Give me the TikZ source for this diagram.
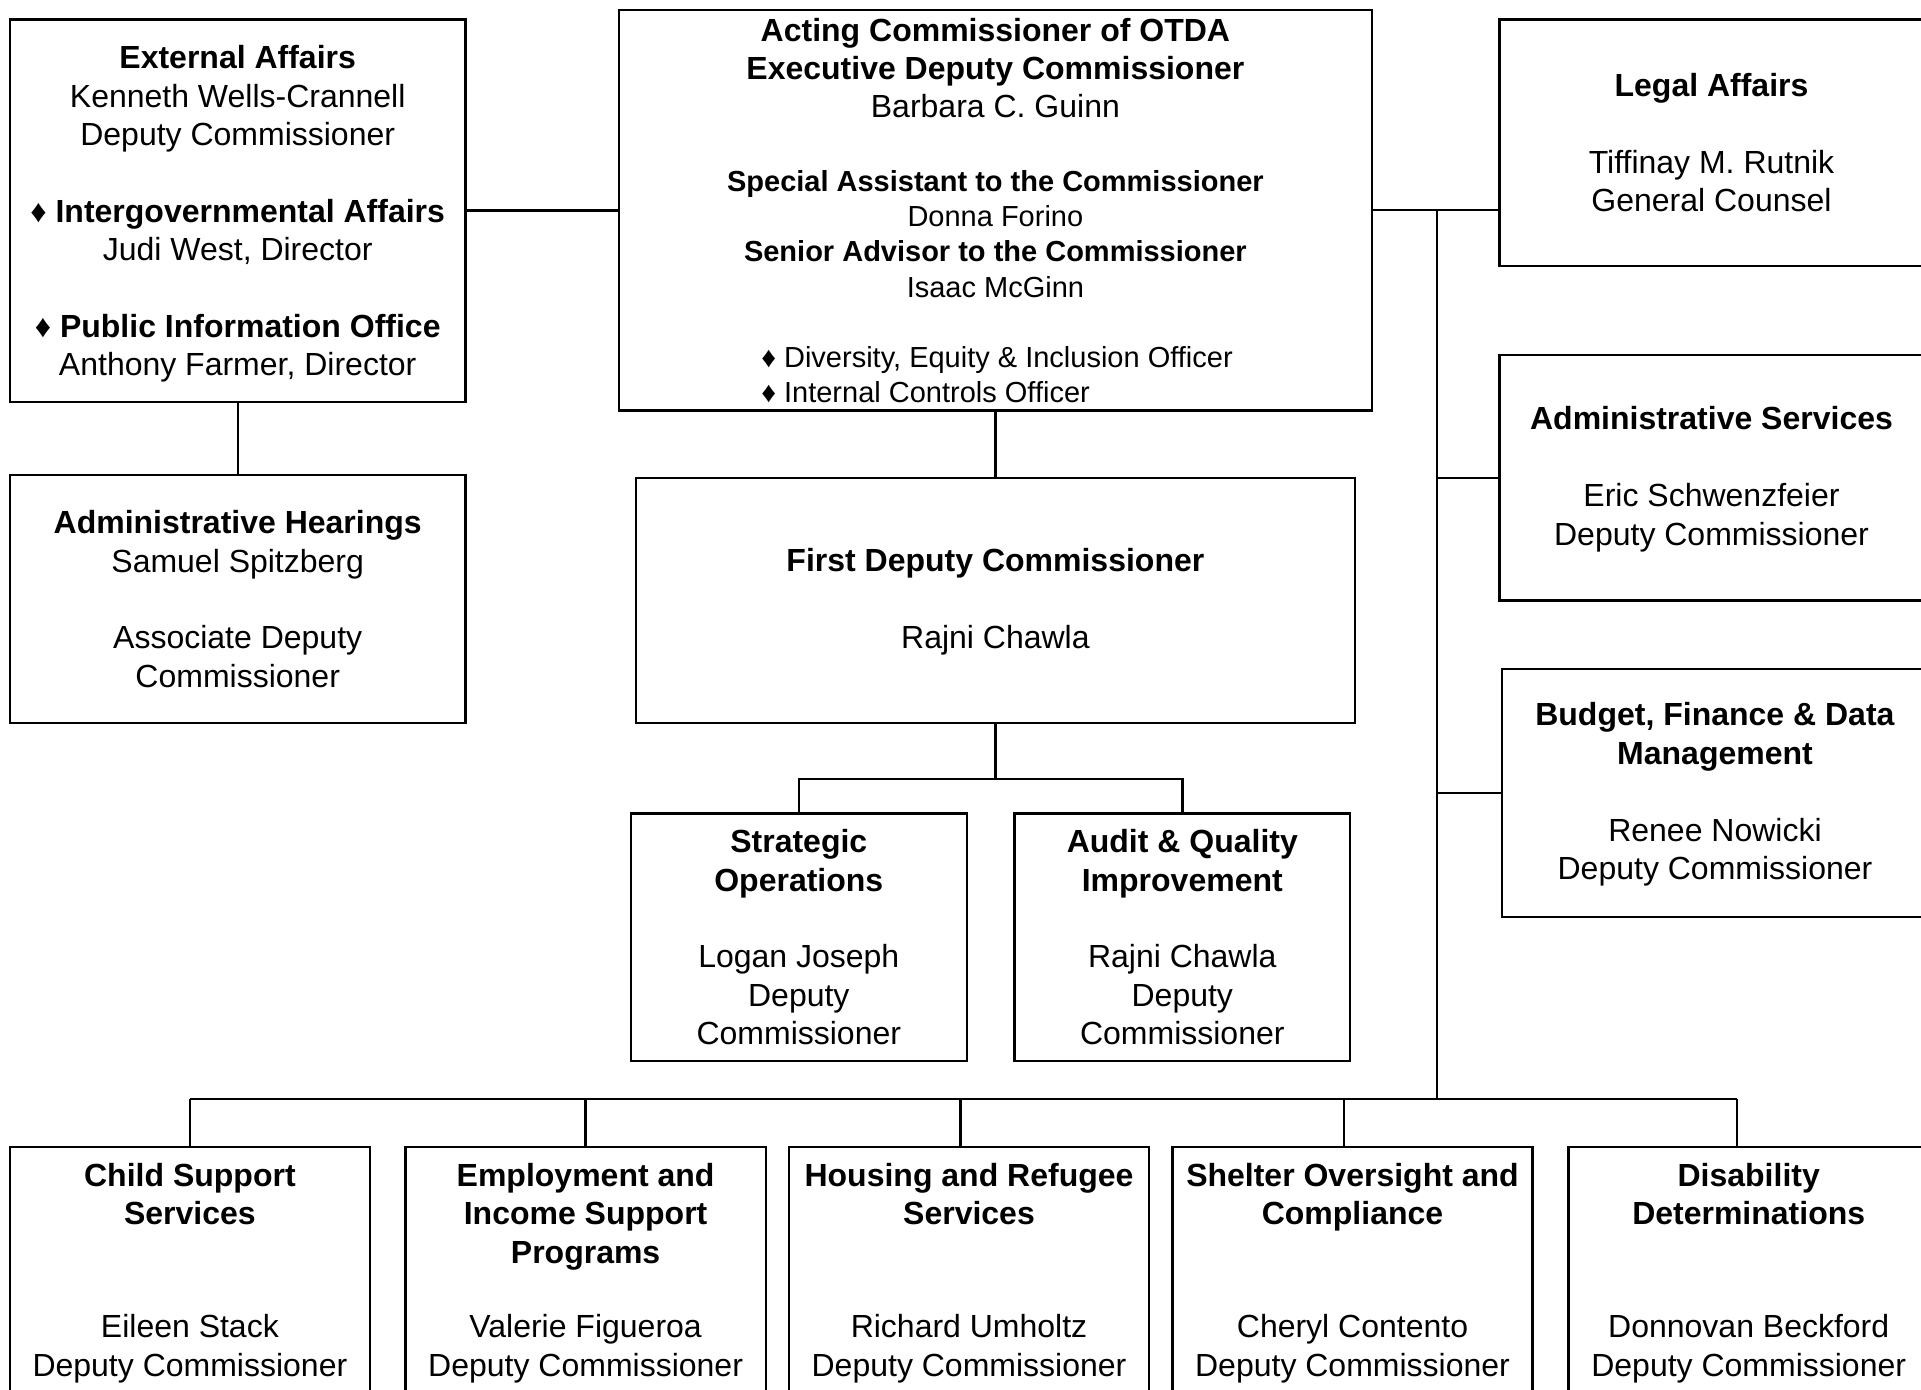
\documentclass[tikz,border=0pt]{standalone}
\usepackage{fontspec}
\setmainfont{Liberation Sans}
\newcommand{\mainfs}{\fontsize{16}{19.2}\selectfont}
\newcommand{\smallfs}{\fontsize{14.5}{17.6}\selectfont}
\newcommand{\dm}{♦}
\newcommand{\tl}[1]{\rule{0pt}{#1}}
\begin{document}
\begin{tikzpicture}[x=0.5pt,y=-0.5pt,
  box/.style={draw, line width=1.2pt, align=center, inner sep=0pt, font=\mainfs},
  conn/.style={line width=1.2pt}]
\useasboundingbox (0,0) rectangle (1921,1390);
\clip (0,0) rectangle (1921,1390);

% top row
\node[box, minimum width=227.9pt, minimum height=191.1pt] (ext) at (237.7,210.7)
 {\tl{15pt}\textbf{External Affairs}\\Kenneth Wells-Crannell\\Deputy Commissioner\\[19.2pt]
  \textbf{\dm\ Intergovernmental Affairs}\\Judi West, Director\\[19.2pt]
  \textbf{\dm\ Public Information Office}\\Anthony Farmer, Director};

\node[box, minimum width=376.7pt, minimum height=200.3pt] (ctr) at (995.4,210.1) {};
\node[font=\mainfs, align=center, inner sep=0pt] (ctrA) at (995.4,68)
 {\textbf{Acting Commissioner of OTDA}\\\textbf{Executive Deputy Commissioner}\\Barbara C. Guinn};
\node[font=\smallfs, align=center, inner sep=0pt] (ctrB) at (995.4,234)
 {\textbf{Special Assistant to the Commissioner}\\Donna Forino\\\textbf{Senior Advisor to the Commissioner}\\Isaac McGinn};
\node[font=\smallfs, align=left, inner sep=0pt] (ctrC) at (997,374.9)
 {\dm\ Diversity, Equity \& Inclusion Officer\\\dm\ Internal Controls Officer};

\node[box, minimum width=212pt, minimum height=123.2pt] (legal) at (1711.5,142.8)
 {\textbf{Legal Affairs}\\[19.2pt]Tiffinay M. Rutnik\\General Counsel};

% second row
\node[box, minimum width=227.9pt, minimum height=123.8pt] (admh) at (237.7,599)
 {\textbf{Administrative Hearings}\\Samuel Spitzberg\\[19.2pt]Associate Deputy\\Commissioner};
\node[box, minimum width=359.6pt, minimum height=122.5pt] (first) at (995.4,600.3)
 {\tl{13pt}\textbf{First Deputy Commissioner}\\[19.2pt]Rajni Chawla};
\node[box, minimum width=212pt, minimum height=122.5pt] (adms) at (1711.5,477.8)
 {\tl{13pt}\textbf{Administrative Services}\\[19.2pt]Eric Schwenzfeier\\Deputy Commissioner};
\node[box, minimum width=213pt, minimum height=124pt] (budget) at (1715,793)
 {\tl{13pt}\textbf{Budget, Finance \& Data}\\\textbf{Management}\\[19.2pt]Renee Nowicki\\Deputy Commissioner};

% third row
\node[box, minimum width=167.9pt, minimum height=123.8pt] (strat) at (798.8,937.3)
 {\textbf{Strategic}\\\textbf{Operations}\\[19.2pt]Logan Joseph\\Deputy\\Commissioner};
\node[box, minimum width=167.9pt, minimum height=123.8pt] (audit) at (1182.3,937.3)
 {\textbf{Audit \& Quality}\\\textbf{Improvement}\\[19.2pt]Rajni Chawla\\Deputy\\Commissioner};

% bottom row
\node[box, minimum width=180.1pt, minimum height=123.4pt] (child) at (189.9,1270.1)
 {\tl{14.5pt}\textbf{Child Support}\\\textbf{Services}\\[37.4pt]Eileen Stack\\Deputy Commissioner};
\node[box, minimum width=180.1pt, minimum height=123.4pt] (empl) at (585.6,1270.1)
 {\tl{14.5pt}\textbf{Employment and}\\\textbf{Income Support}\\\textbf{Programs}\\[18.2pt]Valerie Figueroa\\Deputy Commissioner};
\node[box, minimum width=180.1pt, minimum height=123.4pt] (hous) at (969,1270.1)
 {\tl{14.5pt}\textbf{Housing and Refugee}\\\textbf{Services}\\[37.4pt]Richard Umholtz\\Deputy Commissioner};
\node[box, minimum width=180.1pt, minimum height=123.4pt] (shelt) at (1352.5,1270.1)
 {\tl{14.5pt}\textbf{Shelter Oversight and}\\\textbf{Compliance}\\[37.4pt]Cheryl Contento\\Deputy Commissioner};
\node[box, minimum width=180.1pt, minimum height=123.4pt] (disab) at (1748.7,1270.1)
 {\tl{14.5pt}\textbf{Disability}\\\textbf{Determinations}\\[37.4pt]Donnovan Beckford\\Deputy Commissioner};

% connectors
\draw[conn] (ext.east) -- (ext.east -| ctr.west);
\draw[conn] (ext.south) -- (admh.north);
\draw[conn] (ctr.south) -- (first.north);
\coordinate (fj) at (995.4,779.2);
\draw[conn] (first.south) -- (fj);
\draw[conn] (strat.north) |- (fj) -| (audit.north);

\coordinate (tt) at (1437,210.7);
\coordinate (tb) at (1437,1099);
\draw[conn] (ctr.east) -- (ctr.east -| legal.west);
\draw[conn] (tt) -- (tb);
\draw[conn] (tt |- adms.west) -- (adms.west);
\draw[conn] (tt |- budget.west) -- (budget.west);

\coordinate (b1) at (190,1099);
\coordinate (b2) at (585.6,1099);
\coordinate (b3) at (960.5,1099);
\coordinate (b4) at (1344,1099);
\coordinate (b5) at (1737,1099);
\draw[conn] (b1) -- (b5);
\draw[conn] (b1) -- (b1 |- child.north);
\draw[conn] (b2) -- (b2 |- empl.north);
\draw[conn] (b3) -- (b3 |- hous.north);
\draw[conn] (b4) -- (b4 |- shelt.north);
\draw[conn] (b5) -- (b5 |- disab.north);
\end{tikzpicture}
\end{document}
